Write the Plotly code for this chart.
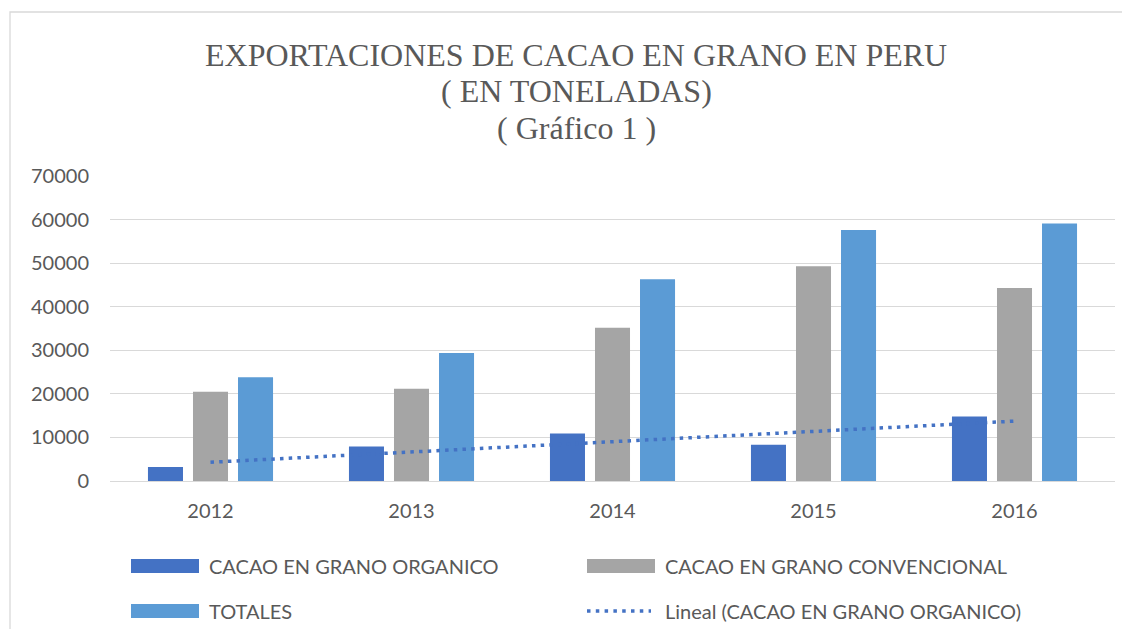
import numpy as np
import plotly.graph_objects as go

years = ["2012", "2013", "2014", "2015", "2016"]
organico = [3200, 7900, 10900, 8300, 14800]
convencional = [20500, 21200, 35200, 49300, 44300]
totales = [23800, 29400, 46300, 57600, 59100]
y_ticks = [0, 10000, 20000, 30000, 40000, 50000, 60000, 70000]

names = ["CACAO EN GRANO ORGANICO", "CACAO EN GRANO CONVENCIONAL", "TOTALES",
         "Lineal (CACAO EN GRANO ORGANICO)"]
title_lines = ["EXPORTACIONES DE CACAO EN GRANO EN PERU", "( EN TONELADAS)", "( Gráfico 1 )"]

C_ORG = "#4472C4"
C_CONV = "#A5A5A5"
C_TOT = "#5B9BD5"
TXT = "#595959"
GRID = "#D9D9D9"
SANS = "Lato, Open Sans, sans-serif"
SERIF = "Liberation Serif, Times New Roman, serif"

# linear trend of organic series
idx = np.arange(len(years))
slope, intercept = np.polyfit(idx, organico, 1)
trend = list(intercept + slope * idx)

# page body has an 8px margin; work in screen coordinates
OFF = 8
PL, PR, PT, PB = 110, 1115, 176, 481   # plot area on screen
W, H = 1130 - 2 * OFF, 637 - 2 * OFF
L, T = PL - OFF, PT - OFF
R = W - (PR - OFF)
B = H - (PB - OFF)
pw, ph = PR - PL, PB - PT

def px(x):
    return (x - PL) / pw

def py(y):
    return (PB - y) / ph

fig = go.Figure()
for vals, col, nm in [(organico, C_ORG, names[0]), (convencional, C_CONV, names[1]),
                      (totales, C_TOT, names[2])]:
    fig.add_trace(go.Bar(x=years, y=vals, name=nm, marker=dict(color=col, line=dict(width=0)),
                         showlegend=False))
fig.add_trace(go.Scatter(x=years, y=trend, mode="lines", name=names[3], showlegend=False,
                         line=dict(color=C_ORG, width=3.5, dash="3.5px,5.2px")))

shapes = []
annotations = []
# outer chart border
shapes.append(dict(type="rect", xref="paper", yref="paper", x0=px(10), x1=px(1160),
                   y0=py(660), y1=py(12), line=dict(color=GRID, width=1.3),
                   fillcolor="rgba(0,0,0,0)", layer="below"))

# title
for txt, yy in zip(title_lines, [55, 91, 128]):
    annotations.append(dict(text=txt, xref="paper", yref="paper", x=px(576), y=py(yy),
                            xanchor="center", yanchor="middle", showarrow=False,
                            font=dict(family=SERIF, size=32, color=TXT)))

# legend
leg = [
    (131, 199, 207, 566, C_ORG, names[0], "bar"),
    (587, 655, 663, 566, C_CONV, names[1], "bar"),
    (131, 199, 207, 611, C_TOT, names[2], "bar"),
    (587, 651, 663, 611, C_ORG, names[3], "dot"),
]
for x0, x1, xt, yc, col, nm, kind in leg:
    if kind == "bar":
        shapes.append(dict(type="rect", xref="paper", yref="paper", x0=px(x0), x1=px(x1),
                           y0=py(yc + 7), y1=py(yc - 7), fillcolor=col, line=dict(width=0)))
    else:
        shapes.append(dict(type="line", xref="paper", yref="paper", x0=px(x0), x1=px(x1),
                           y0=py(yc), y1=py(yc),
                           line=dict(color=col, width=3.5, dash="3.5px,5.3px")))
    annotations.append(dict(text=nm, xref="paper", yref="paper", x=px(xt), y=py(yc),
                            xanchor="left", yanchor="middle", showarrow=False,
                            font=dict(family=SANS, size=20, color=TXT)))

fig.update_layout(
    width=W, height=H,
    margin=dict(l=L, r=R, t=T, b=B, autoexpand=False),
    paper_bgcolor="white", plot_bgcolor="white",
    barmode="group", bargap=0.328, bargroupgap=0.222,
    shapes=shapes, annotations=annotations,
    showlegend=False,
    font=dict(family=SANS, size=20, color=TXT),
)
fig.update_xaxes(type="category", showgrid=False, showline=False, zeroline=False, ticks="",
                 tickfont=dict(family=SANS, size=20, color=TXT), ticklabelstandoff=16)
fig.update_yaxes(range=[0, 70000], tickvals=y_ticks, tickformat="d",
                 showgrid=True, gridcolor=GRID, gridwidth=1.3,
                 zeroline=True, zerolinecolor=GRID, zerolinewidth=1.3, showline=False, ticks="",
                 tickfont=dict(family=SANS, size=20, color=TXT), ticklabelstandoff=20)

fig.write_html("out.html")
